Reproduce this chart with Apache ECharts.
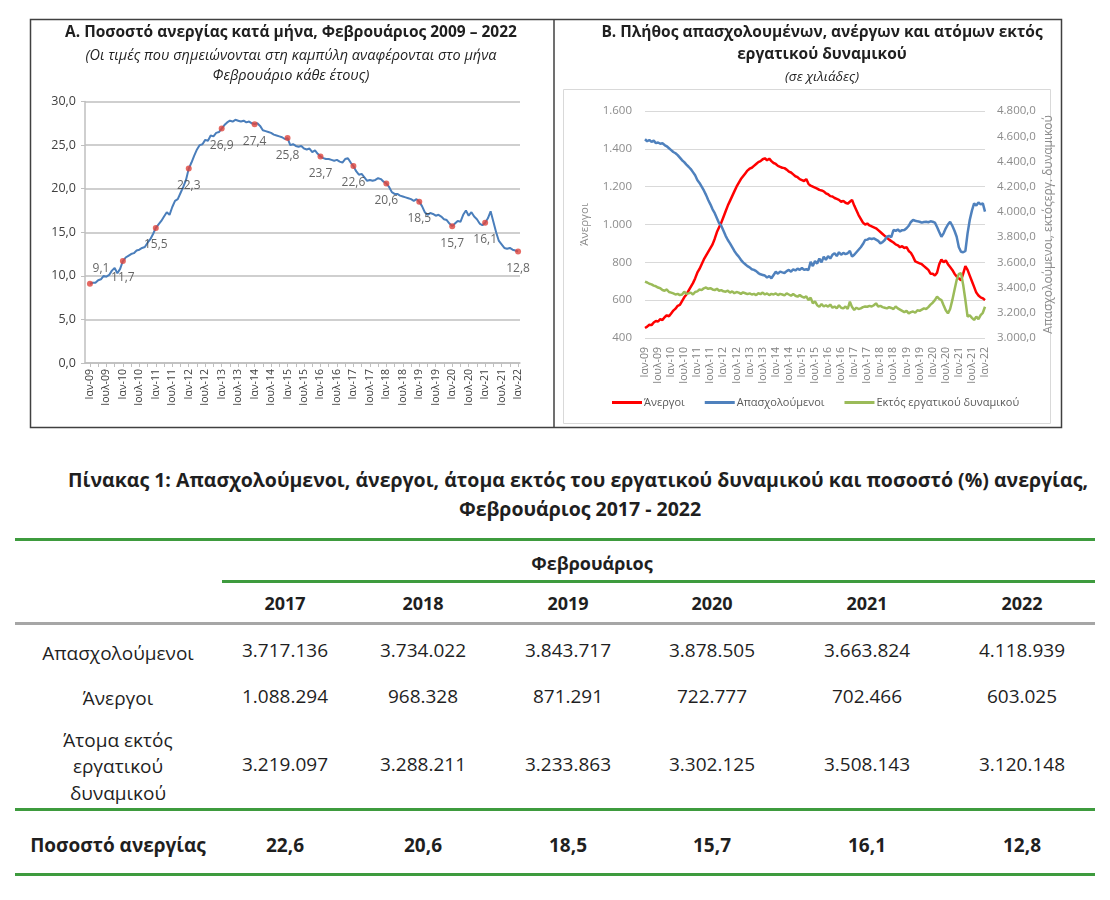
<!DOCTYPE html>
<html>
<head>
<meta charset="utf-8">
<script src="https://cdn.jsdelivr.net/npm/echarts@6/dist/echarts.min.js"></script>
<style>
  html, body { margin: 0; padding: 0; background: #fff; }
  body { width: 1110px; height: 900px; position: relative; overflow: hidden; font-family: 'Open Sans', 'Noto Sans', sans-serif; color: #1f1f1f; }
  #chart { position: absolute; left: 0; top: 0; width: 1110px; height: 440px; }
  .t { position: absolute; white-space: nowrap; transform: translate(-50%, -50%); }
  .ln { position: absolute; height: 3px; }
</style>
</head>
<body>
<div id="chart"></div>
<div id="table"></div>
<script>
// ---------------- DATA ----------------
const monthNames = ['Ιαν','Φεβ','Μαρ','Απρ','Μαϊ','Ιουν','Ιουλ','Αυγ','Σεπ','Οκτ','Νοε','Δεκ'];
const firstYear = 2009;

// Chart A: unemployment rate (%), monthly
const unemploymentRate = [
  9.1, 9.2, 9.2, 9.5, 9.6, 10.0, 9.9, 10.1, 10.6, 10.9, 10.3, 10.8,
  11.7, 12.1, 12.3, 12.5, 12.6, 12.9, 13.0, 13.2, 13.3, 13.8, 14.2, 14.8,
  15.5, 15.9, 16.3, 16.8, 17.3, 17.0, 17.9, 18.6, 18.8, 19.5, 20.2, 21.0,
  22.3, 23.0, 23.8, 24.5, 25.0, 25.1, 25.6, 25.5, 26.1, 26.0, 26.4, 26.5,
  26.9, 27.3, 27.6, 27.8, 27.7, 27.9, 27.8, 27.7, 27.8, 27.6, 27.7, 27.5,
  27.4, 27.5, 27.2, 26.7, 26.6, 26.5, 26.4, 26.2, 26.1, 26.0, 25.9, 25.7,
  25.8, 25.0, 25.1, 24.9, 24.8, 24.9, 24.6, 24.5, 24.6, 24.2, 24.4, 24.0,
  23.7, 23.5, 23.4, 23.4, 23.3, 23.2, 23.3, 23.1, 23.0, 23.4, 23.5, 23.0,
  22.6, 22.0, 21.6, 21.7, 21.3, 20.9, 21.0, 20.9, 21.0, 21.2, 21.1, 20.8,
  20.6, 20.2, 19.6, 19.4, 19.4, 19.2, 19.1, 19.0, 18.9, 18.8, 18.6, 18.8,
  18.5, 18.0, 17.3, 17.0, 17.2, 17.1, 16.9, 17.0, 16.8, 16.5, 16.4, 16.0,
  15.7, 16.0, 16.3, 16.2, 17.0, 17.5, 16.9, 17.3, 16.8, 16.5, 16.0, 15.8,
  16.1, 16.6, 17.4, 16.2, 15.0, 14.0, 13.6, 13.2, 13.1, 13.2, 13.0, 12.9,
  12.8
];

// Chart B: thousands
const unemployed = [
  453, 460, 470, 468, 482, 490, 487, 500, 495, 510, 520, 515,
  530, 545, 555, 570, 575, 595, 615, 630, 650, 670, 690, 715,
  745, 765, 790, 815, 835, 855, 875, 895, 925, 960, 985, 1010,
  1040, 1070, 1100, 1125, 1150, 1175, 1200, 1220, 1240, 1255, 1270, 1285,
  1295, 1300, 1310, 1320, 1330, 1335, 1345, 1350, 1340, 1348, 1335, 1325,
  1320, 1310, 1305, 1300, 1298, 1290, 1280, 1275, 1265, 1255, 1250, 1240,
  1235, 1230, 1240, 1215, 1205, 1200, 1195, 1190, 1183, 1180, 1175, 1165,
  1160, 1150, 1148, 1140, 1135, 1130, 1120, 1125, 1115, 1110, 1120, 1130,
  1100, 1075, 1050, 1030, 1010, 1000, 1005, 995, 990, 985, 980, 970,
  960, 950, 940, 930, 920, 912, 905, 895, 890, 880, 885, 875,
  880, 860, 850, 830, 805, 800, 795, 790, 780, 770, 760, 740,
  740, 730, 745, 790, 815, 800, 810, 790, 775, 760, 740, 725,
  715, 705, 740, 780, 760, 730, 700, 670, 640, 625, 615, 610,
  600
];
const employed = [
  4576, 4560, 4570, 4555, 4565, 4545, 4550, 4540, 4544, 4530, 4520, 4505,
  4490, 4475, 4465, 4450, 4430, 4410, 4395, 4375, 4358, 4340, 4315, 4290,
  4253, 4230, 4200, 4170, 4135, 4094, 4060, 4020, 3990, 3950, 3910, 3890,
  3850, 3810, 3777, 3750, 3720, 3690, 3665, 3645, 3620, 3600, 3585, 3570,
  3560, 3545, 3540, 3530, 3515, 3505, 3500, 3495, 3480, 3490, 3474, 3500,
  3525, 3510, 3526, 3520, 3515, 3530, 3540, 3526, 3545, 3535, 3550, 3540,
  3555, 3540, 3545, 3539, 3605, 3570, 3610, 3590, 3630, 3600, 3645, 3620,
  3650, 3630, 3660, 3672, 3650, 3680, 3660, 3675, 3665, 3672, 3690, 3645,
  3660, 3680, 3700, 3720, 3745, 3777, 3780, 3790, 3785, 3790, 3780, 3770,
  3751, 3760, 3777, 3803, 3810, 3800, 3856, 3850, 3860, 3845, 3855, 3856,
  3870, 3890, 3920, 3936, 3930, 3925, 3922, 3915, 3920, 3922, 3918, 3925,
  3922, 3915, 3880, 3840, 3803, 3830, 3870, 3900, 3922, 3890, 3850, 3803,
  3720, 3684, 3680, 3690, 3830, 3936, 4010, 4068, 4050, 4075, 4060, 4068,
  4002
];
const inactive = [
  3447, 3440, 3430, 3425, 3415, 3410, 3400, 3395, 3381, 3375, 3385, 3365,
  3360, 3354, 3345, 3350, 3340, 3345, 3367, 3350, 3354, 3360, 3345, 3365,
  3370, 3385, 3380, 3394, 3400, 3390, 3395, 3385, 3380, 3390, 3375, 3380,
  3370, 3367, 3375, 3360, 3370, 3355, 3365, 3360, 3350, 3362, 3355, 3348,
  3354, 3345, 3350, 3340, 3355, 3348, 3360, 3345, 3354, 3340, 3350, 3345,
  3354, 3340, 3350, 3345, 3338, 3354, 3345, 3335, 3348, 3335, 3328, 3340,
  3328, 3320, 3330, 3301, 3320, 3275, 3290, 3260, 3248, 3270, 3250, 3260,
  3248, 3265, 3240, 3250, 3235, 3260, 3240, 3235, 3250, 3230, 3288, 3245,
  3222, 3240, 3230, 3235, 3245, 3250, 3248, 3255, 3250, 3260, 3275, 3250,
  3255, 3245, 3240, 3235, 3245, 3238, 3230, 3250, 3235, 3225, 3215, 3205,
  3215, 3195, 3205, 3210, 3200, 3220, 3215, 3225, 3235, 3230, 3245, 3265,
  3280, 3300, 3328, 3310, 3301, 3260, 3220, 3195, 3230, 3300, 3380, 3460,
  3508, 3513, 3420, 3301, 3169, 3180, 3160, 3143, 3170, 3150, 3182, 3200,
  3248
];
const seriesNamesB = ['Άνεργοι', 'Απασχολούμενοι', 'Εκτός εργατικού δυναμικού'];

// Table data
const tableYears = [2017, 2018, 2019, 2020, 2021, 2022];
const tableEmployed = [3717136, 3734022, 3843717, 3878505, 3663824, 4118939];
const tableUnemployed = [1088294, 968328, 871291, 722777, 702466, 603025];
const tableInactive = [3219097, 3288211, 3233863, 3302125, 3508143, 3120148];
const tableRate = [22.6, 20.6, 18.5, 15.7, 16.1, 12.8];

// ---------------- HELPERS ----------------
function grpThousands(n) { return String(n).replace(/\B(?=(\d{3})+(?!\d))/g, '.'); }
function fmtDec(v) {
  const s = Number(v).toFixed(1).split('.');
  return grpThousands(s[0]) + ',' + s[1];
}
const cats = [];
for (let i = 0; i < unemploymentRate.length; i++) {
  const y = firstYear + Math.floor(i / 12);
  cats.push(monthNames[i % 12] + '-' + String(y).slice(2));
}
const labelIdx = []; for (let i = 0; i < cats.length; i += 6) labelIdx.push(i);
const tickIdx = []; for (let i = 0; i < cats.length; i += 3) tickIdx.push(i);

const FONT = "'Open Sans', 'Noto Sans', sans-serif";

// Feb markers (every 12th point)
const markerData = [];
for (let i = 0; i < unemploymentRate.length; i += 12) {
  const item = { value: [i, unemploymentRate[i]] };
  if (i === 0) item.label = { position: 'top', distance: 6, offset: [11, 0] };
  markerData.push(item);
}

// ---------------- CHART ----------------
const chart = echarts.init(document.getElementById('chart'), null, { renderer: 'canvas' });
const darkTxt = '#1f1f1f';
const option = {
  animation: false,
  textStyle: { fontFamily: FONT },
  graphic: [
    { type: 'rect', silent: true, shape: { x: 30.5, y: 19.5, width: 1031, height: 408 }, style: { fill: 'none', stroke: '#404040', lineWidth: 1.5 } },
    { type: 'line', silent: true, shape: { x1: 554, y1: 19.5, x2: 554, y2: 427.5 }, style: { stroke: '#404040', lineWidth: 1.5 } },
    { type: 'rect', silent: true, shape: { x: 563.5, y: 89.5, width: 487, height: 334 }, style: { fill: 'none', stroke: '#d9d9d9', lineWidth: 1 } },
    { type: 'text', silent: true, x: 291, y: 33, style: { text: 'Α. Ποσοστό ανεργίας κατά μήνα, Φεβρουάριος 2009 – 2022', align: 'center', verticalAlign: 'middle', font: 'bold 15.5px ' + FONT, fill: darkTxt } },
    { type: 'text', silent: true, x: 291, y: 56, style: { text: '(Οι τιμές που σημειώνονται στη καμπύλη αναφέρονται στο μήνα', align: 'center', verticalAlign: 'middle', font: 'italic 14.5px ' + FONT, fill: darkTxt } },
    { type: 'text', silent: true, x: 291, y: 76, style: { text: 'Φεβρουάριο κάθε έτους)', align: 'center', verticalAlign: 'middle', font: 'italic 14.5px ' + FONT, fill: darkTxt } },
    { type: 'text', silent: true, x: 822, y: 33, style: { text: 'Β. Πλήθος απασχολουμένων, ανέργων και ατόμων εκτός', align: 'center', verticalAlign: 'middle', font: 'bold 15.5px ' + FONT, fill: darkTxt } },
    { type: 'text', silent: true, x: 822, y: 55, style: { text: 'εργατικού δυναμικού', align: 'center', verticalAlign: 'middle', font: 'bold 15.5px ' + FONT, fill: darkTxt } },
    { type: 'text', silent: true, x: 822, y: 77, style: { text: '(σε χιλιάδες)', align: 'center', verticalAlign: 'middle', font: 'italic 13.5px ' + FONT, fill: darkTxt } }
  ],
  grid: [
    { left: 85, right: 590, top: 101.5, bottom: 77 },
    { left: 645, right: 125, top: 111, bottom: 102 }
  ],
  xAxis: [
    {
      gridIndex: 0, type: 'value', min: -1.8, max: 156.7,
      axisLine: { show: true, onZero: false, lineStyle: { color: '#bfbfbf', width: 1.5 } },
      axisTick: { show: true, customValues: tickIdx, length: 4, lineStyle: { color: '#bfbfbf' } },
      axisLabel: { customValues: labelIdx, formatter: v => cats[Math.round(v)], rotate: 90, fontSize: 10.5, color: '#404040', margin: 6 },
      splitLine: { show: false }
    },
    {
      gridIndex: 1, type: 'category', data: cats, boundaryGap: false,
      axisLine: { show: false }, axisTick: { show: false },
      axisLabel: { interval: 5, rotate: 90, fontSize: 10.5, color: '#7f7f7f', margin: 9 },
      splitLine: { show: false }
    }
  ],
  yAxis: [
    {
      gridIndex: 0, type: 'value', min: 0, max: 30, interval: 5,
      axisLine: { show: true, onZero: false, lineStyle: { color: '#bfbfbf', width: 1.5 } },
      axisTick: { show: true, length: 4, lineStyle: { color: '#bfbfbf' } },
      axisLabel: { formatter: v => fmtDec(v), fontSize: 12.5, color: '#404040', margin: 9 },
      splitLine: { show: true, lineStyle: { color: '#bfbfbf', width: 1.5 } }
    },
    {
      gridIndex: 1, type: 'value', position: 'left', min: 400, max: 1600, interval: 200,
      axisLine: { show: false }, axisTick: { show: false },
      axisLabel: { formatter: v => grpThousands(v), fontSize: 11.5, color: '#8c8c8c', margin: 13 },
      splitLine: { show: true, lineStyle: { color: '#d9d9d9', width: 1 } },
      name: 'Άνεργοι', nameLocation: 'middle', nameRotate: 90, nameGap: 54,
      nameTextStyle: { fontSize: 11.5, color: '#8c8c8c' }
    },
    {
      gridIndex: 1, type: 'value', position: 'right', min: 3000, max: 4800, interval: 200,
      axisLine: { show: false }, axisTick: { show: false },
      axisLabel: { formatter: v => fmtDec(v), fontSize: 11.5, color: '#8c8c8c', margin: 12 },
      splitLine: { show: false },
      name: 'Απασχολούμενοι, εκτόςεργ. δυναμικού', nameLocation: 'middle', nameRotate: 90, nameGap: 58,
      nameTextStyle: { fontSize: 12, color: '#8c8c8c' }
    }
  ],
  legend: {
    data: seriesNamesB, left: 612, top: 397, itemWidth: 30, itemHeight: 3, icon: 'rect', itemGap: 20, padding: 0,
    textStyle: { fontSize: 11, color: '#595959', padding: [0, 0, 0, -3] }
  },
  series: [
    {
      name: 'rate', type: 'line', xAxisIndex: 0, yAxisIndex: 0,
      data: unemploymentRate.map((v, i) => [i, v]),
      symbol: 'none', lineStyle: { color: '#4a7ebb', width: 2 }, z: 2
    },
    {
      name: 'feb', type: 'scatter', xAxisIndex: 0, yAxisIndex: 0,
      data: markerData, symbolSize: 6, itemStyle: { color: '#e0453c' }, z: 3,
      label: { show: true, position: 'bottom', distance: 8, formatter: p => fmtDec(p.value[1]), fontSize: 12, color: '#404040' }
    },
    {
      name: seriesNamesB[0], type: 'line', xAxisIndex: 1, yAxisIndex: 1, data: unemployed,
      symbol: 'none', lineStyle: { color: '#ff0000', width: 2.5 }, itemStyle: { color: '#ff0000' }
    },
    {
      name: seriesNamesB[1], type: 'line', xAxisIndex: 1, yAxisIndex: 2, data: employed,
      symbol: 'none', lineStyle: { color: '#4f81bd', width: 2.5 }, itemStyle: { color: '#4f81bd' }
    },
    {
      name: seriesNamesB[2], type: 'line', xAxisIndex: 1, yAxisIndex: 2, data: inactive,
      symbol: 'none', lineStyle: { color: '#9bbb59', width: 2.5 }, itemStyle: { color: '#9bbb59' }
    }
  ]
};
chart.setOption(option);

// ---------------- TABLE ----------------
const tbl = document.getElementById('table');
function addText(txt, x, y, style) {
  const d = document.createElement('div');
  d.className = 't';
  d.textContent = txt;
  d.style.left = x + 'px'; d.style.top = y + 'px';
  Object.assign(d.style, style || {});
  tbl.appendChild(d);
}
function addLine(x1, x2, y, color) {
  const d = document.createElement('div');
  d.className = 'ln';
  d.style.left = x1 + 'px'; d.style.width = (x2 - x1) + 'px';
  d.style.top = (y - 1.5) + 'px'; d.style.background = color;
  tbl.appendChild(d);
}
const green = '#3e9b3e', grey = '#a6a6a6';
const bold = { fontWeight: 'bold' };
const tFont = { fontSize: '19px' };
addText('Πίνακας 1: Απασχολούμενοι, άνεργοι, άτομα εκτός του εργατικού δυναμικού και ποσοστό (%) ανεργίας,', 578, 479, { fontSize: '19.5px', fontWeight: 'bold' });
addText('Φεβρουάριος 2017 - 2022', 580, 508, { fontSize: '19.5px', fontWeight: 'bold' });
addLine(15, 1095, 539, green);
addText('Φεβρουάριος', 592, 563, Object.assign({ fontSize: '18px' }, bold));
addLine(222, 1095, 581, green);
const colX = [285, 423, 568, 712, 867, 1022];
tableYears.forEach((y, i) => addText(String(y), colX[i], 603, Object.assign({ fontSize: '18px' }, bold)));
addLine(15, 1095, 623, grey);
addText('Απασχολούμενοι', 118, 653, tFont);
tableEmployed.forEach((v, i) => addText(grpThousands(v), colX[i], 650, tFont));
addText('Άνεργοι', 118, 698, tFont);
tableUnemployed.forEach((v, i) => addText(grpThousands(v), colX[i], 696, tFont));
addText('Άτομα εκτός', 118, 740, tFont);
addText('εργατικού', 118, 766, tFont);
addText('δυναμικού', 118, 793, tFont);
tableInactive.forEach((v, i) => addText(grpThousands(v), colX[i], 764, tFont));
addLine(15, 1095, 809, green);
addText('Ποσοστό ανεργίας', 118, 845, Object.assign({}, tFont, bold));
tableRate.forEach((v, i) => addText(fmtDec(v), colX[i], 845, Object.assign({}, tFont, bold)));
addLine(15, 1095, 874, green);
</script>
</body>
</html>
